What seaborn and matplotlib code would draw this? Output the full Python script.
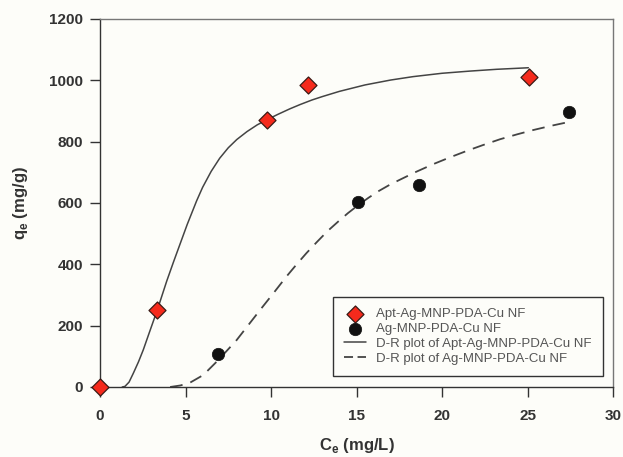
import matplotlib
matplotlib.use("Agg")
import matplotlib.pyplot as plt
import numpy as np
import pandas as pd
import seaborn as sns

# measured points
apt_ce = [0.0, 3.35, 9.78, 12.15, 25.1]
apt_qe = [0, 251, 871, 985, 1012]
ag_ce = [6.9, 15.1, 18.65, 27.4]
ag_qe = [107, 604, 659, 896]

# D-R curves
dr_apt_ce = [1.3, 1.46, 1.7, 1.95, 2.25, 2.53, 2.9, 3.35, 3.9, 4.3, 4.68, 5.1, 5.65,
             6.0, 6.5, 7.0, 7.5, 8.0, 8.6, 9.2, 9.78, 10.4, 11.1, 11.7, 12.4, 13.0,
             14.0, 15.5, 17.0, 18.3, 20.0, 21.6, 23.2, 25.05]
dr_apt_qe = [0, 2, 16, 45, 82, 121, 180, 251, 345, 408, 466, 530, 607,
             651, 703, 746, 780, 807, 833, 855, 872, 889, 907, 921, 936, 947,
             964, 985, 1001, 1012, 1023, 1030, 1036, 1041]
dr_ag_ce = [4.1, 4.7, 5.26, 6.04, 6.92, 7.99, 9.36, 10.2, 10.9, 11.5, 12.08, 12.67,
            13.3, 13.94, 14.5, 15.1, 15.7, 16.3, 16.96, 17.54, 18.5, 19.5, 20.47,
            21.5, 22.4, 23.4, 24.4, 25.34, 26.4, 27.4]
dr_ag_qe = [0, 5, 14, 39, 88, 153, 251, 310, 360, 400, 437, 472,
            508, 540, 567, 593, 617, 639, 660, 676, 702, 727, 749,
            771, 789, 808, 824, 838, 852, 864]

labels = ["Apt-Ag-MNP-PDA-Cu NF", "Ag-MNP-PDA-Cu NF",
          "D-R plot of Apt-Ag-MNP-PDA-Cu NF", "D-R plot of Ag-MNP-PDA-Cu NF"]

bg = "#fdfdf9"
txt = "#333333"

sns.set_style("ticks")
plt.rcParams['font.family'] = ['Liberation Sans', 'DejaVu Sans']

fig = plt.figure(figsize=(6.23, 4.57), dpi=100, facecolor=bg)
ax = fig.add_axes([100 / 623, 1 - 387 / 457, 513 / 623, 368 / 457])
ax.set_facecolor(bg)

sns.lineplot(x=dr_apt_ce, y=dr_apt_qe, ax=ax, color="#444444", lw=1.1, sort=False,
             label=labels[2], zorder=2)
sns.lineplot(x=dr_ag_ce, y=dr_ag_qe, ax=ax, color="#444444", lw=1.3, sort=False,
             linestyle=(0, (7, 4.5)), label=labels[3], zorder=2)
sns.scatterplot(x=apt_ce, y=apt_qe, ax=ax, marker="D", s=75, color="#f52a1c",
                edgecolor="#3a1a15", linewidth=0.9, label=labels[0], zorder=3,
                clip_on=False)
sns.scatterplot(x=ag_ce, y=ag_qe, ax=ax, marker="o", s=80, color="#111111",
                edgecolor="#111111", linewidth=0.5, label=labels[1], zorder=3)

ax.set_xlim(0, 30)
ax.set_ylim(0, 1200)
ax.set_xticks(np.arange(0, 31, 5))
ax.set_yticks(np.arange(0, 1201, 200))
ax.tick_params(axis="both", direction="out", length=7, width=1, colors="#333333",
               labelsize=11)
ax.tick_params(axis="x", pad=9)
ax.tick_params(axis="y", pad=5)
ax.tick_params(top=False, right=False)
for t in ax.get_xticklabels() + ax.get_yticklabels():
    t.set_fontweight("bold")
    t.set_color(txt)

for side in ["left", "bottom"]:
    ax.spines[side].set_color("#333333")
    ax.spines[side].set_linewidth(1.0)
for side in ["top", "right"]:
    ax.spines[side].set_visible(True)
    ax.spines[side].set_color("#777777")
    ax.spines[side].set_linewidth(1.0)

ax.set_xlabel(r"C$_\mathregular{e}$ (mg/L)", fontsize=12, fontweight="bold", color=txt,
              labelpad=9)
ax.set_ylabel(r"q$_\mathregular{e}$ (mg/g)", fontsize=12, fontweight="bold", color=txt,
              labelpad=14)

h, l = ax.get_legend_handles_labels()
order = [l.index(s) for s in labels]
leg = ax.legend([h[i] for i in order], [l[i] for i in order],
                loc="lower right", bbox_to_anchor=(0.98, 0.03), borderaxespad=0,
                fontsize=9.5, frameon=True, fancybox=False, edgecolor="#333333",
                facecolor=bg, framealpha=1, handlelength=1.65, handletextpad=0.75,
                labelspacing=0.2, borderpad=0.85, scatterpoints=1)
leg.get_frame().set_linewidth(1.0)
leg.get_lines()[-1].set_linestyle((0, (5, 2.5)))
for t in leg.get_texts():
    t.set_color("#555555")

fig.savefig("out.png", dpi=100, facecolor=bg)
